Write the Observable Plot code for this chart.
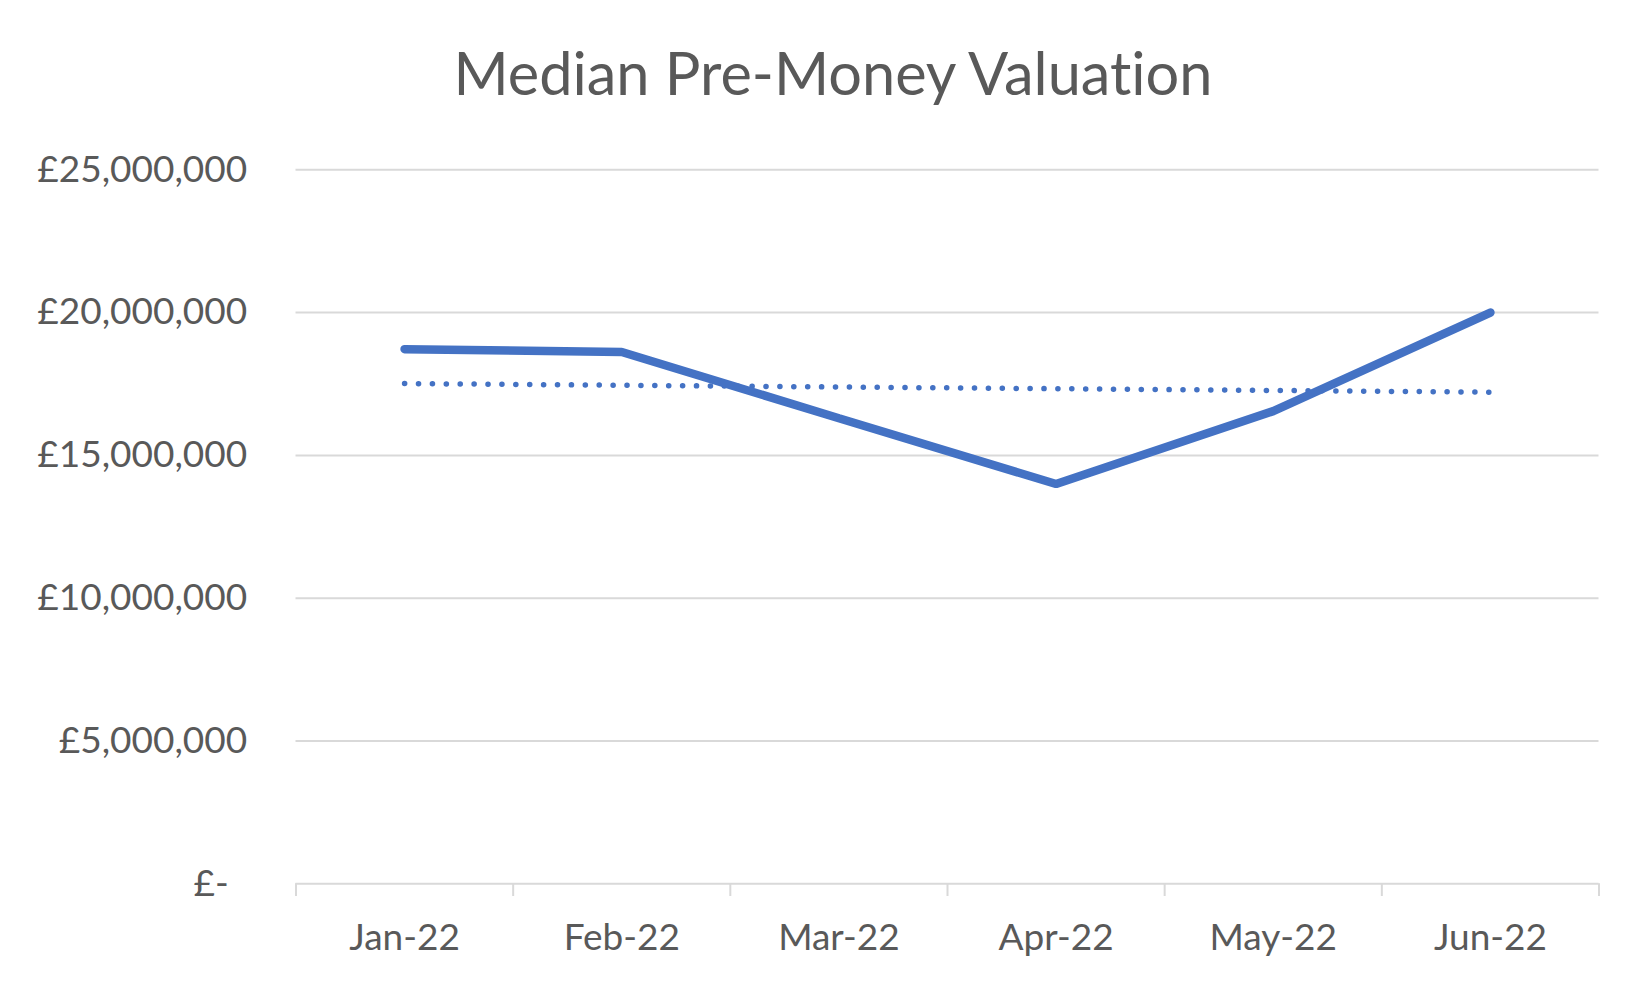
<!DOCTYPE html>
<html><head><meta charset="utf-8">
<script src="https://cdn.jsdelivr.net/npm/d3@7"></script>
<script src="https://cdn.jsdelivr.net/npm/@observablehq/plot@0.6"></script>
<style>
body{margin:0;background:#fff;font-family:Lato,sans-serif;}
#title{position:relative;height:110px;width:1650px;}
#title span{position:absolute;left:8px;width:1650px;text-align:center;top:43px;line-height:1;font-size:59.5px;color:#595959;white-space:nowrap;font-variant-ligatures:none;}
</style></head><body>
<div id="title"><span>Median Pre-Money Valuation</span></div>
<div id="chart"></div>
<script>
const months = ["Jan-22", "Feb-22", "Mar-22", "Apr-22", "May-22", "Jun-22"];
const values = [18720000, 18620000, 16300000, 14000000, 16550000, 20000000];
const yTicks = [0, 5000000, 10000000, 15000000, 20000000, 25000000];

const data = months.map((m, i) => ({i, month: m, value: values[i]}));
const boundaries = d3.range(-0.5, months.length, 1);
const fmt = v => v === 0 ? "£-\u2002" : "£" + d3.format(",")(v);

const chart = Plot.plot({
  width: 1650, height: 880,
  marginLeft: 295.5, marginRight: 51.5, marginTop: 59.3, marginBottom: 106.7,
  style: {fontFamily: "Lato, sans-serif", fontSize: "37px", color: "#595959", background: "#fff", overflow: "visible"},
  x: {type: "linear", domain: [-0.5, months.length - 0.5]},
  y: {domain: [0, 25000000]},
  marks: [
    Plot.ruleY(yTicks, {stroke: "#d9d9d9", strokeWidth: 2}),
    Plot.axisY(yTicks, {tickSize: 0, tickPadding: 48.8, tickFormat: fmt, fontSize: 37, label: null}),
    Plot.axisX(boundaries, {tickSize: 12.7, tickFormat: () => "", stroke: "#d9d9d9", strokeWidth: 2, label: null}),
    Plot.axisX(d3.range(months.length), {tickSize: 0, tickPadding: 39.7, tickFormat: i => months[i], fontSize: 37, label: null}),
    Plot.linearRegressionY(data, {x: "i", y: "value", ci: 0, stroke: "#4472C4", strokeWidth: 5.5, strokeDasharray: "0.1 13.8", strokeLinecap: "round"}),
    Plot.line(data, {x: "i", y: "value", stroke: "#4472C4", strokeWidth: 8.5, strokeLinecap: "round", strokeLinejoin: "miter"})
  ]
});
document.getElementById("chart").appendChild(chart);
</script>
</body></html>
